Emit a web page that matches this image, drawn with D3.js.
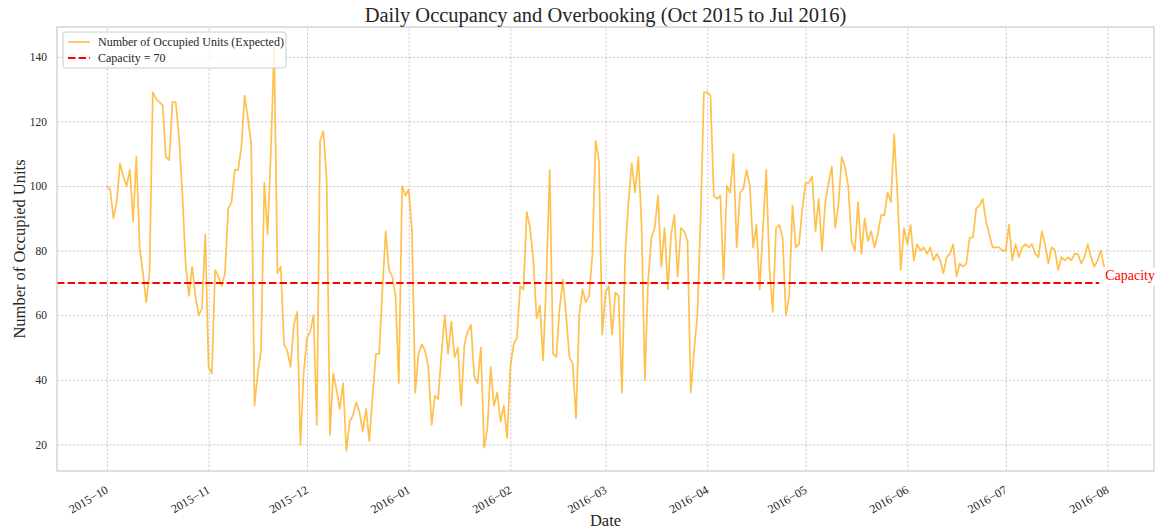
<!DOCTYPE html>
<html>
<head>
<meta charset="utf-8">
<script src="https://cdn.jsdelivr.net/npm/d3@7"></script>
<style>
  body { margin: 0; background: #fff; }
  svg text { font-family: "Liberation Serif", "DejaVu Serif", serif; }
</style>
</head>
<body>
<div id="chart"></div>
<script>
// daily expected occupied units, one array per month (Oct 2015 .. Jul 2016)
let startDate = "2015-10-01"
let occOct = [100, 99, 90, 95, 107, 103, 100, 105, 89, 109, 81, 73, 64, 73, 129, 127, 126, 125, 109, 108, 126, 126, 115, 98, 76, 66, 75, 66, 60, 62, 85]
let occNov = [44, 42, 74, 72, 69, 73, 93, 95, 105, 105, 112, 128, 121, 113, 32, 42, 49, 101, 85, 111, 143, 73, 75, 51, 49, 44, 57, 61, 20, 42]
let occDec = [53, 55, 60, 26, 114, 117, 102, 23, 42, 37, 31, 39, 18, 27, 29, 33, 30, 24, 31, 21, 35, 48, 48, 68, 86, 74, 72, 66, 39, 100, 97]
let occJan = [99, 86, 36, 48, 51, 49, 44, 26, 35, 34, 48, 60, 48, 58, 47, 50, 32, 51, 55, 57, 41, 39, 50, 19, 25, 44, 32, 36, 27, 32, 22]
let occFeb = [44, 51, 53, 69, 68, 92, 87, 77, 59, 63, 46, 72, 105, 48, 47, 62, 71, 60, 47, 45, 28, 60, 68, 64, 66, 79, 114, 108, 54]
let occMar = [67, 69, 54, 67, 66, 36, 79, 95, 107, 98, 109, 88, 40, 71, 84, 87, 97, 75, 87, 68, 85, 91, 72, 87, 86, 83, 36, 49, 60, 90, 129]
let occApr = [129, 128, 97, 96, 97, 71, 100, 98, 110, 81, 98, 99, 105, 100, 81, 88, 68, 87, 105, 74, 61, 87, 88, 84, 60, 66, 94, 81, 82, 93]
let occMay = [101, 101, 103, 86, 96, 80, 95, 101, 106, 87, 94, 109, 106, 100, 83, 80, 95, 79, 90, 83, 86, 81, 85, 91, 91, 98, 95, 116, 97, 74, 87]
let occJun = [82, 88, 77, 82, 80, 81, 79, 81, 77, 79, 77, 73, 78, 79, 82, 72, 76, 75, 76, 84, 84, 93, 94, 96, 89, 85, 81, 81, 81, 80]
let occJul = [80, 88, 77, 82, 78, 81, 82, 81, 82, 79, 78, 86, 82, 76, 81, 80, 74, 78, 77, 78, 77, 79, 79, 76, 78, 82, 78, 75, 77, 80, 75]

let capacity = 70
let yTicks = [20, 40, 60, 80, 100, 120, 140]
let xTickMonths = ["2015-10", "2015-11", "2015-12", "2016-01", "2016-02", "2016-03",
                   "2016-04", "2016-05", "2016-06", "2016-07", "2016-08"]

let width = 1157,
    height = 531
let margin = {top: 27, right: 3, bottom: 60, left: 57}
let innerW = width - margin.left - margin.right,
    innerH = height - margin.top - margin.bottom

let parseDay = d3.timeParse("%Y-%m-%d")
let parseMonth = d3.timeParse("%Y-%m")
let values = [].concat(occOct, occNov, occDec, occJan, occFeb, occMar, occApr, occMay, occJun, occJul)
let start = parseDay(startDate)
let data = values.map(function(v, i) {
  return {date: d3.timeDay.offset(start, i), value: v}
})

let svg = d3.select("#chart").append("svg")
    .attr("width", width)
    .attr("height", height)

// matplotlib style 5% padding on both axes
let xExt = d3.extent(data, d => d.date)
let xPad = (xExt[1] - xExt[0]) * 0.05
let x = d3.scaleTime()
    .domain([new Date(+xExt[0] - xPad), new Date(+xExt[1] + xPad)])
    .range([0, innerW])

let yExt = d3.extent(values)
let yPad = (yExt[1] - yExt[0]) * 0.05
let y = d3.scaleLinear()
    .domain([yExt[0] - yPad, yExt[1] + yPad])
    .range([innerH, 0])

let g = svg.append("g")
    .attr("transform", "translate(" + margin.left + "," + margin.top + ")")

// grid
g.append("g")
  .call(d3.axisLeft(y).tickValues(yTicks).tickSize(-innerW).tickFormat(""))
  .call(a => a.select(".domain").remove())
  .selectAll("line")
    .attr("stroke", "#c4c4c4")
    .attr("stroke-width", 0.8)
    .attr("stroke-dasharray", "2.5,1.5")

g.append("g")
    .attr("transform", "translate(0," + innerH + ")")
  .call(d3.axisBottom(x).tickValues(xTickMonths.map(parseMonth)).tickSize(-innerH).tickFormat(""))
  .call(a => a.select(".domain").remove())
  .selectAll("line")
    .attr("stroke", "#c4c4c4")
    .attr("stroke-width", 0.8)
    .attr("stroke-dasharray", "2.5,1.5")

// y tick labels
g.append("g")
  .call(d3.axisLeft(y).tickValues(yTicks).tickSize(0).tickPadding(10))
  .call(a => a.select(".domain").remove())
  .selectAll("text")
    .attr("font-size", 11.5)
    .attr("fill", "#262626")
    .style("font-family", "'Liberation Serif', serif")

// x tick labels, rotated
let fmt = d3.timeFormat("%Y")
let fmtM = d3.timeFormat("%m")
g.append("g")
    .attr("class", "xlabels")
  .selectAll("text")
  .data(xTickMonths.map(parseMonth))
  .enter().append("text")
    .attr("transform", d => "translate(" + (x(d) - 2) + "," + (innerH + 14) + ") rotate(-30)")
    .attr("text-anchor", "end")
    .attr("dy", "0.7em")
    .attr("font-size", 12)
    .attr("fill", "#262626")
    .text(d => fmt(d) + "\u2212" + fmtM(d))

// occupancy line
let line = d3.line()
    .x(d => x(d.date))
    .y(d => y(d.value))

g.append("path")
    .datum(data)
    .attr("fill", "none")
    .attr("stroke", "orange")
    .attr("stroke-opacity", 0.7)
    .attr("stroke-width", 1.7)
    .attr("stroke-linejoin", "round")
    .attr("d", line)

// capacity line (axhline up to 95% of the axis)
g.append("line")
    .attr("x1", 0)
    .attr("x2", innerW * 0.95)
    .attr("y1", y(capacity))
    .attr("y2", y(capacity))
    .attr("stroke", "red")
    .attr("stroke-width", 2)
    .attr("stroke-dasharray", "7.4,3.2")

// frame
g.append("rect")
    .attr("width", innerW)
    .attr("height", innerH)
    .attr("fill", "none")
    .attr("stroke", "#cccccc")
    .attr("stroke-width", 1.25)

// capacity label with white box
let capG = g.append("g")
    .attr("transform", "translate(" + (innerW * 0.95 + 5) + "," + (y(capacity) - 3) + ")")
capG.append("rect")
    .attr("x", -3)
    .attr("y", -12)
    .attr("width", 60)
    .attr("height", 18)
    .attr("fill", "#fff")
capG.append("text")
    .attr("x", 1)
    .attr("y", 0)
    .attr("font-size", 14)
    .attr("fill", "red")
    .text("Capacity")

// legend
let legend = g.append("g")
    .attr("transform", "translate(6,5)")
legend.append("rect")
    .attr("width", 223)
    .attr("height", 36)
    .attr("rx", 3)
    .attr("fill", "#fff")
    .attr("fill-opacity", 0.8)
    .attr("stroke", "#cccccc")
    .attr("stroke-width", 1)

legend.append("line")
    .attr("x1", 5).attr("x2", 27)
    .attr("y1", 10).attr("y2", 10)
    .attr("stroke", "orange")
    .attr("stroke-opacity", 0.7)
    .attr("stroke-width", 1.7)
legend.append("text")
    .attr("x", 35).attr("y", 14)
    .attr("font-size", 12)
    .attr("fill", "#262626")
    .text("Number of Occupied Units (Expected)")

legend.append("line")
    .attr("x1", 5).attr("x2", 27)
    .attr("y1", 26).attr("y2", 26)
    .attr("stroke", "red")
    .attr("stroke-width", 2)
    .attr("stroke-dasharray", "7.4,3.2")
legend.append("text")
    .attr("x", 35).attr("y", 30)
    .attr("font-size", 12)
    .attr("fill", "#262626")
    .text("Capacity = 70")

// titles
svg.append("text")
    .attr("x", margin.left + innerW / 2)
    .attr("y", 22)
    .attr("text-anchor", "middle")
    .attr("font-size", 20.5)
    .attr("fill", "#262626")
    .text("Daily Occupancy and Overbooking (Oct 2015 to Jul 2016)")

svg.append("text")
    .attr("x", margin.left + innerW / 2)
    .attr("y", 526)
    .attr("text-anchor", "middle")
    .attr("font-size", 16.5)
    .attr("fill", "#262626")
    .text("Date")

svg.append("text")
    .attr("transform", "translate(25," + (margin.top + innerH / 2) + ") rotate(-90)")
    .attr("text-anchor", "middle")
    .attr("font-size", 16.5)
    .attr("fill", "#262626")
    .text("Number of Occupied Units")
</script>
</body>
</html>
